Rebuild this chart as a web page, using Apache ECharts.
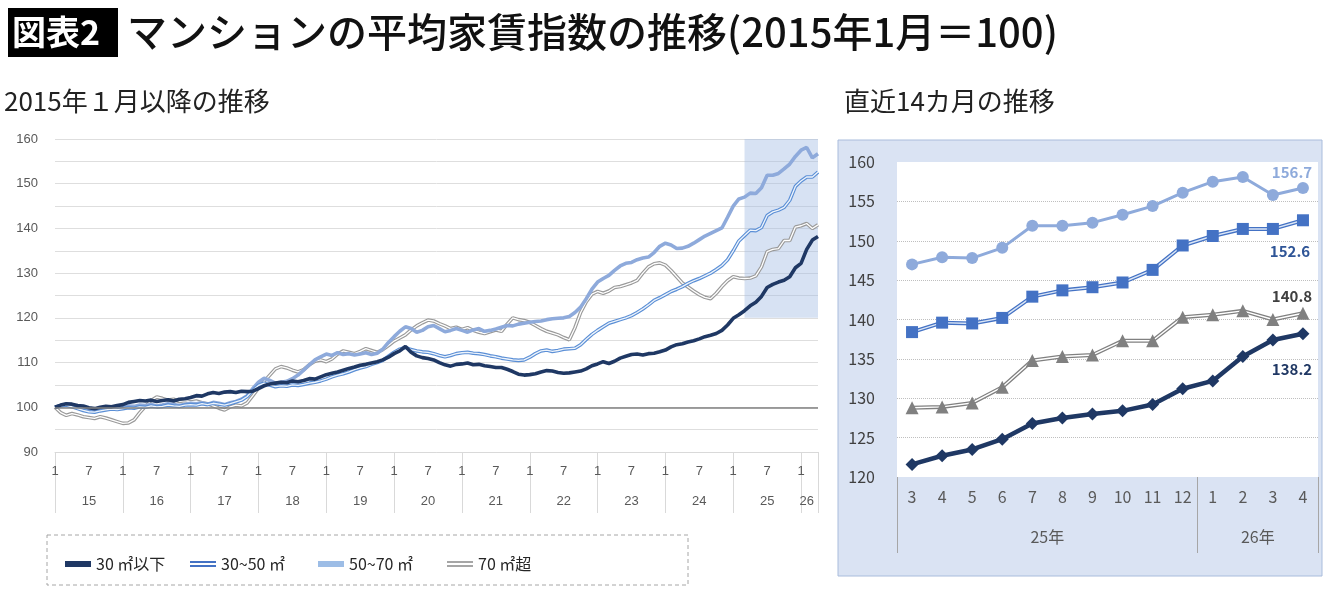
<!DOCTYPE html>
<html><head><meta charset="utf-8">
<script src="https://cdn.jsdelivr.net/npm/echarts@6/dist/echarts.min.js"></script>
<style>html,body{margin:0;padding:0;background:#fff}#c{width:1340px;height:594px}</style>
</head><body><div id="c"></div>
<script>
// ---- data (2015-01 .. 2026-04) ----
const startYear = 2015, endYear = 2026, endMonth = 4;
const seriesNames = ['30 ㎡以下', '30~50 ㎡', '50~70 ㎡', '70 ㎡超'];
const s30 = [
 100.0,100.5,100.8,100.7,100.4,100.3,99.9,99.7,100.0,100.2,100.1,100.4,
 100.6,101.1,101.3,101.5,101.4,101.6,101.3,101.5,101.7,101.4,101.8,101.9,
 102.2,102.6,102.5,103.0,103.3,103.1,103.4,103.5,103.3,103.6,103.5,103.6,
 104.2,104.8,105.2,105.4,105.6,105.5,105.9,105.7,106.0,106.4,106.3,106.8,
 107.3,107.6,107.9,108.3,108.7,109.0,109.4,109.6,109.9,110.2,110.6,111.2,
 112.0,112.6,113.6,112.3,111.5,111.1,110.9,110.6,110.0,109.5,109.2,109.6,
 109.7,109.9,109.5,109.6,109.3,109.1,108.9,108.9,108.5,108.0,107.4,107.2,
 107.3,107.5,107.9,108.2,108.1,107.8,107.6,107.7,107.9,108.1,108.6,109.3,
 109.7,110.2,109.8,110.3,111.0,111.4,111.8,111.9,111.7,112.0,112.1,112.4,
 112.8,113.5,114.0,114.2,114.6,114.9,115.3,115.8,116.1,116.5,117.2,118.4,
 119.9,120.7,121.6,122.7,123.5,124.8,126.8,127.5,128.0,128.4,129.2,131.2,
 132.2,135.3,137.4,138.2];
const s3050 = [
 100.0,100.3,100.5,100.1,99.7,99.3,99.0,98.9,99.2,99.4,99.6,99.5,
 99.7,99.9,99.8,100.1,100.0,100.3,100.1,100.2,100.5,100.3,100.2,100.5,
 100.6,100.5,100.8,100.6,100.9,100.7,100.5,100.8,101.2,101.6,102.4,103.8,
 104.9,105.4,105.0,104.6,104.8,104.7,105.0,104.9,105.1,105.4,105.6,105.9,
 106.3,106.8,107.2,107.5,107.9,108.4,108.8,109.1,109.6,110.0,110.5,111.4,
 112.3,113.0,113.4,112.9,112.6,112.4,112.3,112.0,111.6,111.3,111.6,112.0,
 112.2,112.3,112.1,112.0,111.8,111.5,111.3,111.0,110.8,110.6,110.5,110.6,
 111.2,112.0,112.6,112.8,112.5,112.7,113.0,113.1,113.2,114.0,115.2,116.3,
 117.2,118.0,118.8,119.2,119.6,120.0,120.5,121.2,122.0,122.9,123.9,124.5,
 125.2,125.9,126.4,127.0,127.7,128.3,128.8,129.4,130.0,130.8,131.7,133.0,
 135.0,137.2,138.4,139.6,139.5,140.2,142.9,143.7,144.1,144.7,146.3,149.4,
 150.6,151.5,151.5,152.6];
const s5070 = [
 100.0,100.4,100.7,100.3,99.9,99.6,99.4,99.3,99.6,99.8,100.0,99.9,
 100.1,100.3,100.2,100.5,100.4,100.6,100.3,100.5,100.8,100.6,100.4,100.7,
 100.9,100.8,101.0,100.7,101.1,100.9,100.6,101.0,101.3,101.8,102.6,104.2,
 105.6,106.5,106.0,105.4,105.6,105.8,106.4,107.2,108.3,109.5,110.6,111.3,
 111.9,111.6,112.2,111.8,112.0,111.7,111.9,112.2,111.8,112.1,113.0,114.5,
 115.8,117.0,118.0,117.6,116.8,117.2,118.0,118.3,117.6,116.9,117.2,117.6,
 117.2,116.8,117.3,117.6,117.0,117.2,117.5,117.9,118.3,118.2,118.6,118.8,
 119.0,119.2,119.3,119.6,119.8,119.9,120.0,120.3,121.2,122.4,124.3,126.4,
 128.0,128.8,129.5,130.6,131.6,132.2,132.4,133.0,133.4,133.6,134.6,136.0,
 136.7,136.3,135.5,135.6,136.0,136.7,137.5,138.3,138.9,139.5,140.1,142.5,
 145.0,146.6,147.0,147.9,147.8,149.1,151.9,151.9,152.3,153.3,154.4,156.1,
 157.5,158.1,155.8,156.7];
const sOver70 = [
 100.0,98.8,98.2,98.6,98.3,97.9,97.7,97.5,97.9,97.6,97.2,96.8,
 96.4,96.5,97.2,98.8,100.2,101.5,102.3,102.0,101.6,101.8,101.3,101.5,
 101.2,101.4,101.0,100.8,100.3,99.8,99.4,100.1,100.5,100.3,101.0,102.6,
 104.3,105.8,107.2,108.6,109.1,108.8,108.3,107.9,108.4,109.5,110.3,110.6,
 110.2,110.8,111.9,112.6,112.3,112.0,112.5,113.1,112.7,112.3,112.9,113.8,
 114.8,115.5,116.2,117.3,118.2,118.9,119.5,119.3,118.7,118.2,117.6,117.9,
 117.4,117.8,117.2,116.8,116.5,116.9,117.3,117.0,118.6,120.0,119.6,119.4,
 119.0,118.3,117.6,117.0,116.6,116.2,115.6,115.1,117.8,121.2,123.6,125.3,
 125.9,125.5,126.0,126.8,127.0,127.4,127.8,128.4,130.0,131.4,132.1,132.3,
 131.8,130.6,129.2,127.8,126.9,126.0,125.2,124.6,124.3,125.5,127.0,128.3,
 129.2,128.9,128.8,128.9,129.4,131.4,134.8,135.3,135.5,137.3,137.3,140.3,
 140.6,141.1,140.0,140.8];
const recentMonths = ['3','4','5','6','7','8','9','10','11','12','1','2','3','4'];
const recentYears = ['25年', '26年'];
const recentCount = 14;

// categories
const months = [];
for (let y = startYear; y <= endYear; y++) {
  for (let m = 1; m <= 12; m++) {
    if (y === endYear && m > endMonth) break;
    months.push(y + '-' + m);
  }
}
const monthOf = v => +v.split('-')[1];
const yearOf = v => +v.split('-')[0];
const lastIdx = months.length - 1;
const recent = arr => arr.slice(arr.length - recentCount);

const C_NAVY = '#1f3864', C_BLUE = '#4472c4', C_LB = '#8eaadb', C_GRAY = '#9a9a9a';
const FONT = 'Noto Sans CJK JP';

function lastLabel(arr, color, pos, offset) {
  return recent(arr).map((v, i, a) => i === a.length - 1 ? {
    value: v,
    label: { show: true, position: pos, offset: offset, formatter: String(v.toFixed(1)),
      color: color, fontSize: 15, fontWeight: 'bold', fontFamily: FONT }
  } : v);
}

const chart = echarts.init(document.getElementById('c'));
const option = {
  animation: false,
  textStyle: { fontFamily: FONT },
  graphic: [
    { type: 'rect', z: -10, shape: { x: 838, y: 140, width: 484, height: 436 },
      style: { fill: '#dae3f3', stroke: '#a9bcdc', lineWidth: 1 } },
    { type: 'rect', shape: { x: 8, y: 8, width: 110, height: 49 }, style: { fill: '#000' } },
    { type: 'text', x: 12, y: 32, style: { text: '図表2', fill: '#fff', font: 'bold 34px "Noto Sans CJK JP"', textVerticalAlign: 'middle' } },
    { type: 'text', x: 127, y: 32, style: { text: 'マンションの平均家賃指数の推移(2015年1月＝100)', fill: '#111', font: '500 40px "Noto Sans CJK JP"', textVerticalAlign: 'middle' } },
    { type: 'text', x: 4, y: 101, style: { text: '2015年１月以降の推移', fill: '#222', font: '26px "Noto Sans CJK JP"', textVerticalAlign: 'middle' } },
    { type: 'text', x: 844, y: 101, style: { text: '直近14カ月の推移', fill: '#222', font: '26px "Noto Sans CJK JP"', textVerticalAlign: 'middle' } },
    { type: 'rect', shape: { x: 47, y: 535, width: 641, height: 50 },
      style: { fill: 'none', stroke: '#a6a6a6', lineWidth: 1, lineDash: [4, 3] } }
  ],
  legend: [
    { left: 60, ic: 'path://M0,0H26V6H0Z', col: C_NAVY, n: 0 },
    { left: 185, ic: 'path://M0,0H26V2H0ZM0,4H26V6H0Z', col: C_BLUE, n: 1 },
    { left: 313, ic: 'path://M0,0H26V6H0Z', col: '#9dbde6', n: 2 },
    { left: 442, ic: 'path://M0,0H26V2H0ZM0,4H26V6H0Z', col: '#a6a6a6', n: 3 }
  ].map(l => ({
    left: l.left, top: 551, itemWidth: 26, itemHeight: 6, selectedMode: false,
    textStyle: { fontSize: 16, color: '#262626', fontFamily: FONT },
    data: [{ name: seriesNames[l.n], icon: l.ic, itemStyle: { color: l.col, borderWidth: 0 } }]
  })),
  grid: [
    { left: 55, right: 522, top: 139, bottom: 142 },
    { left: 897, right: 22, top: 162, bottom: 117, show: true, backgroundColor: '#fff', borderWidth: 0 }
  ],
  xAxis: [
    { type: 'category', gridIndex: 0, data: months, boundaryGap: false,
      axisLine: { lineStyle: { color: '#d9d9d9' } },
      axisTick: { show: true, length: 61, interval: (i, v) => monthOf(v) === 1 || i === lastIdx, lineStyle: { color: '#d9d9d9' } },
      axisLabel: { interval: (i, v) => monthOf(v) === 1 || monthOf(v) === 7, formatter: v => { const m = monthOf(v); return (m === 1 || m === 7) ? String(m) : ''; },
        color: '#595959', fontSize: 13, margin: 13, fontFamily: 'Liberation Sans' } },
    { type: 'category', gridIndex: 0, data: months, boundaryGap: false, position: 'bottom', offset: 30,
      axisLine: { show: false }, axisTick: { show: false },
      axisLabel: { interval: (i, v) => monthOf(v) === 7 || i === lastIdx - 2, formatter: v => String(yearOf(v) % 100),
        color: '#595959', fontSize: 13, margin: 13, fontFamily: 'Liberation Sans' } },
    { type: 'category', gridIndex: 1, data: recentMonths, boundaryGap: true,
      axisLine: { show: false },
      axisTick: { show: true, length: 76, interval: i => i === 0 || i === 10, lineStyle: { color: '#a6a6a6' } },
      axisLabel: { color: '#595959', fontSize: 16, margin: 12, interval: 0, fontFamily: FONT } },
    { type: 'value', gridIndex: 1, min: 0, max: recentCount, interval: 1, position: 'bottom', offset: 40,
      axisLine: { show: false }, axisTick: { show: false }, splitLine: { show: false },
      axisLabel: { formatter: v => v === 5 ? recentYears[0] : (v === 12 ? recentYears[1] : ''), color: '#595959', fontSize: 16, margin: 12, fontFamily: FONT } }
  ],
  yAxis: [
    { type: 'value', gridIndex: 0, min: 90, max: 160, interval: 5,
      axisLine: { show: false }, axisTick: { show: false },
      splitLine: { lineStyle: { color: '#dedede' } },
      axisLabel: { formatter: v => v % 10 === 0 ? String(v) : '', color: '#595959', fontSize: 13, margin: 17, fontFamily: 'Liberation Sans' } },
    { type: 'value', gridIndex: 1, min: 120, max: 160, interval: 5,
      axisLine: { show: false }, axisTick: { show: false },
      splitLine: { showMinLine: false, showMaxLine: false, lineStyle: { color: '#bfbfbf', type: 'dotted' } },
      axisLabel: { color: '#404040', fontSize: 16, margin: 22, fontFamily: FONT } }
  ],
  series: [
    // shade + 100 baseline
    { type: 'line', name: 'shade', xAxisIndex: 0, yAxisIndex: 0, data: s30, symbol: 'none', z: 1,
      lineStyle: { opacity: 0 }, silent: true,
      markArea: { silent: true, itemStyle: { color: 'rgba(160,186,226,0.42)' },
        data: [[{ xAxis: months[lastIdx - recentCount + 1], yAxis: 120 }, { xAxis: months[lastIdx], yAxis: 160 }]] },
      markLine: { silent: true, symbol: 'none', label: { show: false }, lineStyle: { color: '#808080', width: 1.5, type: 'solid' },
        data: [{ yAxis: 100 }] } },
    // left chart
    { type: 'line', name: seriesNames[3], xAxisIndex: 0, yAxisIndex: 0, data: sOver70, symbol: 'none', z: 2,
      lineStyle: { color: C_GRAY, width: 3.6 }, itemStyle: { color: C_GRAY } },
    { type: 'line', name: 'g_in', xAxisIndex: 0, yAxisIndex: 0, data: sOver70, symbol: 'none', z: 2,
      lineStyle: { color: '#fff', width: 1.3 } },
    { type: 'line', name: seriesNames[2], xAxisIndex: 0, yAxisIndex: 0, data: s5070, symbol: 'none', z: 3,
      lineStyle: { color: C_LB, width: 3.6 }, itemStyle: { color: C_LB } },
    { type: 'line', name: seriesNames[1], xAxisIndex: 0, yAxisIndex: 0, data: s3050, symbol: 'none', z: 3,
      lineStyle: { color: '#5b8fd6', width: 3.6 }, itemStyle: { color: C_BLUE } },
    { type: 'line', name: 'b_in', xAxisIndex: 0, yAxisIndex: 0, data: s3050, symbol: 'none', z: 3,
      lineStyle: { color: '#eef4fb', width: 1.3 } },
    { type: 'line', name: seriesNames[0], xAxisIndex: 0, yAxisIndex: 0, data: s30, symbol: 'none', z: 4,
      lineStyle: { color: C_NAVY, width: 3.6 }, itemStyle: { color: C_NAVY } },
    // right chart
    { type: 'line', name: 'r_lb', xAxisIndex: 2, yAxisIndex: 1, data: lastLabel(s5070, '#8eaadb', 'top', [-11, 3]),
      symbol: 'circle', symbolSize: 12, z: 5, lineStyle: { color: C_LB, width: 3 }, itemStyle: { color: C_LB } },
    { type: 'line', name: 'r_b_out', xAxisIndex: 2, yAxisIndex: 1, data: recent(s3050), symbol: 'none', z: 5,
      lineStyle: { color: C_BLUE, width: 4 } },
    { type: 'line', name: 'r_b_in', xAxisIndex: 2, yAxisIndex: 1, data: recent(s3050), symbol: 'none', z: 6,
      lineStyle: { color: '#dbe6f6', width: 1.4 } },
    { type: 'line', name: 'r_b', xAxisIndex: 2, yAxisIndex: 1, data: lastLabel(s3050, '#2f5597', 'bottom', [-13, 13]),
      symbol: 'rect', symbolSize: 12, z: 7, lineStyle: { opacity: 0 }, itemStyle: { color: C_BLUE } },
    { type: 'line', name: 'r_g_out', xAxisIndex: 2, yAxisIndex: 1, data: recent(sOver70), symbol: 'none', z: 5,
      lineStyle: { color: '#808080', width: 4 } },
    { type: 'line', name: 'r_g_in', xAxisIndex: 2, yAxisIndex: 1, data: recent(sOver70), symbol: 'none', z: 6,
      lineStyle: { color: '#fff', width: 1.4 } },
    { type: 'line', name: 'r_g', xAxisIndex: 2, yAxisIndex: 1, data: lastLabel(sOver70, '#404040', 'top', [-11, 2]),
      symbol: 'triangle', symbolSize: 13, z: 7, lineStyle: { opacity: 0 }, itemStyle: { color: '#808080' } },
    { type: 'line', name: 'r_n', xAxisIndex: 2, yAxisIndex: 1, data: lastLabel(s30, '#203864', 'bottom', [-11, 17]),
      symbol: 'diamond', symbolSize: 13, z: 7, lineStyle: { color: C_NAVY, width: 4.5 }, itemStyle: { color: C_NAVY } }
  ]
};
chart.setOption(option);
</script></body></html>
